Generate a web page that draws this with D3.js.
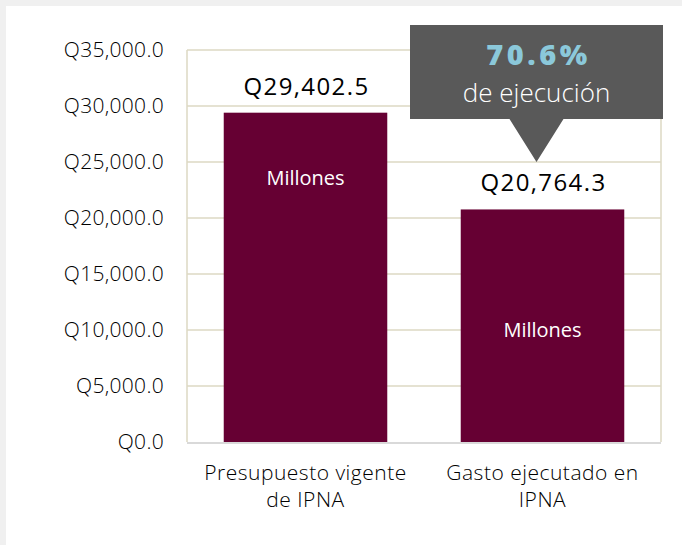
<!DOCTYPE html>
<html lang="es">
<head>
<meta charset="UTF-8">
<title>Presupuesto vs gasto IPNA</title>
<script src="https://d3js.org/d3.v7.min.js"></script>
<style>
    body { margin: 0; padding: 0; background: #f0f0f0; }
    svg { display: block; font-family: "Open Sans", sans-serif; }
    .tick text { font-size: 21px; font-weight: 300; fill: #000; letter-spacing: 0.3px; }
</style>
</head>
<body>
<div id="chart"></div>
<script>
    // Data
    const categories = ["Presupuesto vigente de IPNA", "Gasto ejecutado en IPNA"];
    const catLines = [["Presupuesto vigente", "de IPNA"], ["Gasto ejecutado en", "IPNA"]];
    const values = [29402.5, 20764.3];
    const yTicks = [0, 5000, 10000, 15000, 20000, 25000, 30000, 35000];
    const calloutPct = "70.6%";
    const calloutText = "de ejecución";
    const barNote = "Millones";

    const W = 682, H = 545;
    const plot = {left: 187, right: 661, top: 50, bottom: 442};

    const svg = d3.select("#chart").append("svg")
        .attr("width", W).attr("height", H);

    // white panel
    svg.append("rect").attr("x", 6).attr("y", 6)
        .attr("width", W - 6).attr("height", H - 6).attr("fill", "#fff");

    const y = d3.scaleLinear().domain([0, 35000]).range([plot.bottom, plot.top]);
    const x = d3.scaleBand().domain(categories)
        .range([plot.left, plot.right])
        .paddingInner(0.31).paddingOuter(0.155);

    const fmt = d => "Q" + d3.format(",.1f")(d);

    // grid
    svg.append("g").selectAll("line")
        .data(yTicks.filter(d => d > 0))
        .join("line")
        .attr("x1", plot.left).attr("x2", plot.right)
        .attr("y1", d => y(d)).attr("y2", d => y(d))
        .attr("stroke", "#ddd9c3").attr("stroke-width", 1.5);

    // side borders
    [plot.left, plot.right].forEach(px => {
        svg.append("line")
            .attr("x1", px).attr("x2", px)
            .attr("y1", plot.top).attr("y2", plot.bottom)
            .attr("stroke", "#ddd9c3").attr("stroke-width", 1.5);
    });

    // y axis labels
    const yAxis = svg.append("g")
        .attr("transform", `translate(${plot.left},0)`)
        .call(d3.axisLeft(y).tickValues(yTicks).tickFormat(fmt).tickSize(0).tickPadding(23));
    yAxis.attr("font-family", null).attr("font-size", null);
    yAxis.select(".domain").remove();

    // bars
    svg.append("g").selectAll("rect")
        .data(values)
        .join("rect")
        .attr("x", (d, i) => x(categories[i]))
        .attr("y", d => y(d))
        .attr("width", x.bandwidth())
        .attr("height", d => y(0) - y(d))
        .attr("fill", "#660033");

    // baseline
    svg.append("line")
        .attr("x1", plot.left).attr("x2", plot.right)
        .attr("y1", plot.bottom + 1).attr("y2", plot.bottom + 1)
        .attr("stroke", "#d9d9d9").attr("stroke-width", 2);

    // value labels
    svg.append("g").selectAll("text")
        .data(values)
        .join("text")
        .attr("x", (d, i) => x(categories[i]) + x.bandwidth() / 2 + 1)
        .attr("y", d => y(d) - 18)
        .attr("text-anchor", "middle")
        .attr("font-size", 24)
        .attr("letter-spacing", 1.4)
        .attr("fill", "#000")
        .text(fmt);

    // "Millones" inside bars
    svg.append("g").selectAll("text")
        .data(values)
        .join("text")
        .attr("x", (d, i) => x(categories[i]) + x.bandwidth() / 2)
        .attr("y", (d, i) => i === 0 ? y(d) + 72 : (y(d) + y(0)) / 2 + 11)
        .attr("text-anchor", "middle")
        .attr("font-size", 20)
        .attr("fill", "#fff")
        .text(barNote);

    // category labels
    const xl = svg.append("g").selectAll("text")
        .data(categories)
        .join("text")
        .attr("x", d => x(d) + x.bandwidth() / 2)
        .attr("y", 480)
        .attr("text-anchor", "middle")
        .attr("font-size", 21)
        .attr("font-weight", 300)
        .attr("letter-spacing", 0.5)
        .attr("fill", "#000");
    xl.selectAll("tspan")
        .data((d, i) => catLines[i])
        .join("tspan")
        .attr("x", function () { return this.parentNode.getAttribute("x"); })
        .attr("dy", (d, i) => i === 0 ? 0 : 27)
        .text(d => d);

    // callout
    const cx = x(categories[1]) + x.bandwidth() / 2 - 6;
    const boxTop = 25, boxBottom = 119, boxW = 253, apexY = 162;
    const callout = svg.append("g");
    callout.append("path")
        .attr("d", `M${cx - boxW / 2},${boxTop} H${cx + boxW / 2} V${boxBottom} H${cx + 27} L${cx},${apexY} L${cx - 27},${boxBottom} H${cx - boxW / 2} Z`)
        .attr("fill", "#595959");
    callout.append("text")
        .attr("x", cx + 2).attr("y", 65)
        .attr("text-anchor", "middle")
        .attr("font-size", 29).attr("font-weight", 800)
        .attr("letter-spacing", 3.5)
        .attr("fill", "#8bc8da")
        .text(calloutPct);
    callout.append("text")
        .attr("x", cx).attr("y", 102)
        .attr("text-anchor", "middle")
        .attr("font-size", 26).attr("font-weight", 300)
        .attr("fill", "#fff")
        .text(calloutText);
</script>
</body>
</html>
